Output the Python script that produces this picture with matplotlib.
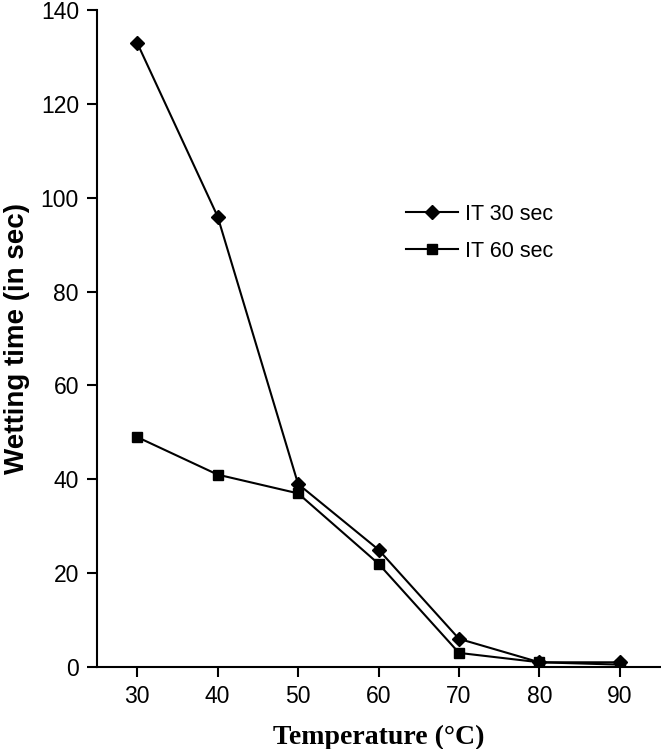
import matplotlib
matplotlib.use("Agg")
from matplotlib import pyplot as plt

# data
temperature = [30, 40, 50, 60, 70, 80, 90]
it_30 = [133, 96, 39, 25, 6, 1, 1]
it_60 = [49, 41, 37, 22, 3, 1, 0.5]
x_ticks = [30, 40, 50, 60, 70, 80, 90]
y_ticks = [0, 20, 40, 60, 80, 100, 120, 140]

narrow = ["Liberation Sans Narrow", "Liberation Sans", "DejaVu Sans"]

fig = plt.figure(figsize=(6.61, 7.49), dpi=100)
ax = fig.add_axes([0.1467, 0.1095, 0.852, 0.877])

ax.plot(temperature, it_30, color="black", lw=1.5, marker="D", ms=7.5,
        label="IT 30 sec")
ax.plot(temperature, it_60, color="black", lw=1.5, marker="s", ms=7,
        label="IT 60 sec")

ax.set_xlim(25, 95)
ax.set_ylim(0, 140)
ax.set_xticks(x_ticks)
ax.set_yticks(y_ticks)
ax.set_xticklabels([str(t) for t in x_ticks], family=narrow, fontsize=16.5)
ax.set_yticklabels([str(t) for t in y_ticks], family=narrow, fontsize=16.5)
ax.tick_params(direction="out", length=7, width=1.5, pad=6)

for side in ["top", "right"]:
    ax.spines[side].set_visible(False)
for side in ["left", "bottom"]:
    ax.spines[side].set_linewidth(1.5)

ax.set_xlabel("Temperature (°C)", family=["Liberation Serif", "DejaVu Serif"],
              fontweight="bold", fontsize=20, labelpad=12)
ax.set_ylabel("Wetting time (in sec)", family=["Liberation Sans", "DejaVu Sans"],
              fontweight="bold", fontsize=20, labelpad=8)

leg = ax.legend(loc="upper left", bbox_to_anchor=(0.515, 0.735), frameon=False,
                prop={"family": narrow, "size": 15.5}, handlelength=2.4,
                handletextpad=0.3, labelspacing=0.75)

fig.savefig("out.png", dpi=100)
